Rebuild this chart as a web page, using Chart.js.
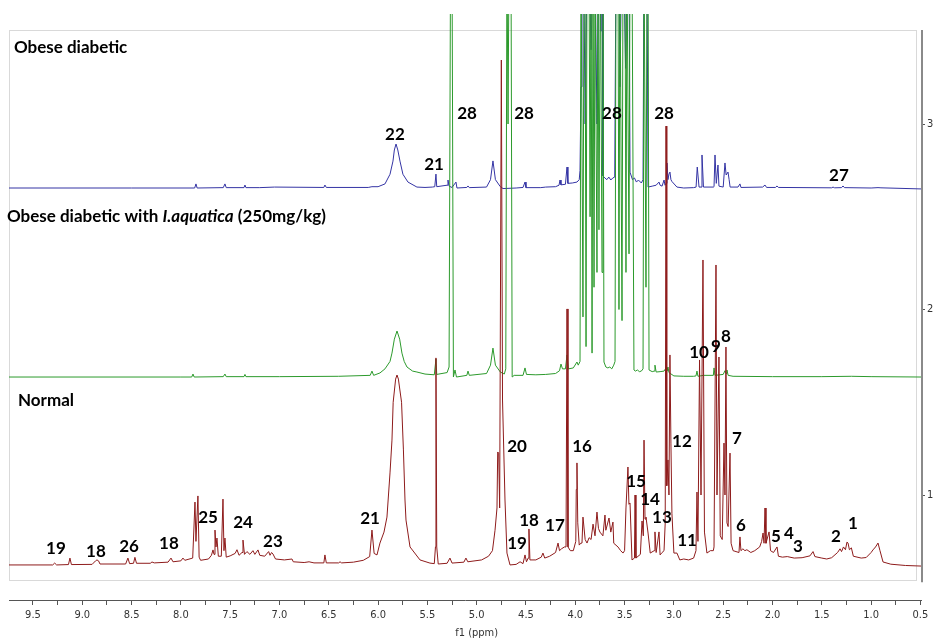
<!DOCTYPE html>
<html>
<head>
<meta charset="utf-8">
<title>1H NMR spectra</title>
<script src="https://cdn.jsdelivr.net/npm/chart.js@4.4.1/dist/chart.umd.min.js"></script>
<style>
  html, body { margin: 0; padding: 0; background: #fff; }
  #wrap { width: 935px; height: 641px; }
</style>
</head>
<body>
<div id="wrap"><canvas id="nmr-chart" width="935" height="641"></canvas></div>
<script>
// stacked 1H spectra, [ppm, intensity] with each trace already offset on the right axis
const normalTrace = [
  [9.743, 0.623], [9.30, 0.623], [9.28, 0.633], [9.26, 0.623],
  [9.14, 0.625], [9.125, 0.660], [9.11, 0.625],
  [8.90, 0.626], [8.865, 0.645], [8.851, 0.650], [8.835, 0.645], [8.82, 0.628],
  [8.56, 0.628], [8.537, 0.660], [8.52, 0.630], [8.48, 0.632], [8.466, 0.664], [8.45, 0.632],
  [8.31, 0.632], [8.293, 0.639], [8.27, 0.634],
  [8.13, 0.638], [8.10, 0.660], [8.08, 0.640],
  [8.00, 0.645], [7.979, 0.660], [7.96, 0.648],
  [7.88, 0.660], [7.857, 0.962], [7.847, 0.750], [7.827, 0.995], [7.815, 0.665], [7.80, 0.648],
  [7.72, 0.655], [7.69, 0.675], [7.674, 0.704], [7.664, 0.680], [7.654, 0.811], [7.644, 0.720], [7.634, 0.768], [7.62, 0.670],
  [7.59, 0.670], [7.573, 0.978], [7.563, 0.700], [7.553, 0.768], [7.54, 0.665],
  [7.50, 0.672], [7.45, 0.685], [7.431, 0.705], [7.41, 0.675], [7.38, 0.690], [7.370, 0.757], [7.355, 0.680],
  [7.33, 0.695], [7.30, 0.680], [7.269, 0.700], [7.25, 0.680], [7.218, 0.704], [7.20, 0.675], [7.15, 0.670],
  [7.110, 0.695], [7.096, 0.675], [7.080, 0.690], [7.066, 0.682], [7.04, 0.655],
  [6.95, 0.650], [6.873, 0.655], [6.86, 0.640],
  [6.75, 0.636], [6.70, 0.640], [6.65, 0.634],
  [6.55, 0.634], [6.539, 0.677], [6.525, 0.634],
  [6.40, 0.634], [6.386, 0.640], [6.37, 0.634], [6.25, 0.638], [6.15, 0.648],
  [6.085, 0.668], [6.062, 0.811], [6.040, 0.685], [6.011, 0.677], [5.981, 0.741], [5.940, 0.800],
  [5.910, 0.881], [5.879, 1.119], [5.859, 1.296], [5.847, 1.500], [5.822, 1.625], [5.808, 1.647],
  [5.794, 1.625], [5.762, 1.500], [5.743, 1.243], [5.727, 0.973], [5.717, 0.865], [5.676, 0.720],
  [5.575, 0.650], [5.474, 0.633],
  [5.430, 0.630], [5.418, 0.720], [5.413, 1.739], [5.405, 0.720], [5.390, 0.628],
  [5.30, 0.632], [5.271, 0.660], [5.25, 0.633], [5.13, 0.638], [5.109, 0.660], [5.09, 0.640],
  [4.95, 0.650], [4.88, 0.670], [4.84, 0.700], [4.814, 0.810], [4.794, 0.930], [4.787, 1.232],
  [4.777, 1.226], [4.767, 0.930], [4.750, 3.345], [4.738, 1.512], [4.713, 0.973], [4.693, 0.687], [4.662, 0.623],
  [4.60, 0.626], [4.56, 0.640], [4.53, 0.630], [4.51, 0.677], [4.495, 0.640], [4.478, 0.660], [4.470, 0.817],
  [4.460, 0.650], [4.40, 0.650], [4.345, 0.665], [4.328, 0.687], [4.31, 0.660], [4.26, 0.670], [4.20, 0.690],
  [4.175, 0.741], [4.16, 0.700], [4.14, 0.710], [4.11, 0.720], [4.094, 0.720], [4.084, 2.003], [4.074, 0.720], [4.05, 0.700],
  [4.02, 0.700], [3.995, 0.750], [3.990, 1.030], [3.983, 1.173], [3.975, 0.850], [3.960, 0.730], [3.945, 0.740],
  [3.932, 0.741], [3.922, 0.881], [3.90, 0.760], [3.881, 0.741], [3.86, 0.770], [3.840, 0.760], [3.820, 0.843],
  [3.80, 0.780], [3.780, 0.908], [3.765, 0.820], [3.75, 0.800], [3.72, 0.780], [3.699, 0.892], [3.69, 0.810],
  [3.658, 0.876], [3.64, 0.800], [3.618, 0.854], [3.61, 0.740], [3.567, 0.720], [3.54, 0.700], [3.516, 0.687],
  [3.500, 0.700], [3.486, 0.930], [3.466, 1.151], [3.456, 0.950], [3.445, 0.957], [3.425, 0.650], [3.40, 0.660],
  [3.394, 1.000], [3.385, 0.660], [3.34, 0.680], [3.323, 0.860], [3.31, 0.780], [3.303, 1.296], [3.293, 0.870],
  [3.283, 0.881], [3.262, 0.795], [3.24, 0.687], [3.20, 0.700], [3.192, 0.801], [3.18, 0.690], [3.151, 0.801],
  [3.14, 0.677], [3.12, 0.690],
  [3.10, 0.700], [3.088, 0.850], [3.080, 2.989], [3.072, 1.050], [3.060, 1.189], [3.050, 1.000], [3.040, 1.755],
  [3.030, 1.280], [3.020, 0.900], [3.000, 0.687], [2.969, 0.687], [2.94, 0.650], [2.90, 0.655], [2.85, 0.650],
  [2.80, 0.660], [2.776, 0.700], [2.766, 1.016], [2.756, 0.750], [2.740, 1.728], [2.725, 1.000], [2.705, 2.267],
  [2.690, 0.800], [2.665, 0.687], [2.63, 0.700], [2.60, 0.700],
  [2.593, 0.720], [2.573, 2.240], [2.563, 1.000], [2.543, 1.744], [2.530, 0.780], [2.51, 0.760], [2.492, 1.280],
  [2.482, 1.000], [2.472, 1.798], [2.462, 0.850], [2.45, 0.830], [2.431, 1.226], [2.42, 0.740], [2.40, 0.700],
  [2.34, 0.690], [2.330, 0.774], [2.32, 0.700], [2.30, 0.710], [2.28, 0.700], [2.26, 0.705], [2.22, 0.690],
  [2.18, 0.700], [2.13, 0.720], [2.11, 0.750], [2.096, 0.795], [2.086, 0.740], [2.076, 0.930], [2.066, 0.740],
  [2.035, 0.801], [2.02, 0.700], [1.99, 0.690], [1.954, 0.720], [1.94, 0.670], [1.90, 0.665], [1.85, 0.668],
  [1.78, 0.660], [1.70, 0.662], [1.62, 0.672], [1.589, 0.695], [1.57, 0.668], [1.50, 0.660], [1.45, 0.655],
  [1.40, 0.662], [1.34, 0.690], [1.315, 0.710], [1.30, 0.695], [1.28, 0.720], [1.26, 0.705], [1.245, 0.746],
  [1.234, 0.741], [1.22, 0.705], [1.20, 0.715], [1.18, 0.670], [1.10, 0.660], [1.05, 0.663], [1.00, 0.690],
  [0.981, 0.704], [0.955, 0.720], [0.930, 0.741], [0.910, 0.700], [0.879, 0.639], [0.80, 0.627], [0.65, 0.620],
  [0.494, 0.617]
];

const treatedTrace = [
  [9.743, 1.636], [8.00, 1.636], [7.89, 1.636], [7.877, 1.652], [7.865, 1.636], [7.57, 1.638], [7.553, 1.652],
  [7.54, 1.638], [7.36, 1.638], [7.350, 1.650], [7.34, 1.638], [7.00, 1.638], [6.40, 1.640], [6.08, 1.645],
  [6.062, 1.668], [6.045, 1.645], [5.981, 1.658], [5.930, 1.680], [5.879, 1.720], [5.859, 1.765], [5.835, 1.840],
  [5.808, 1.884], [5.781, 1.840], [5.758, 1.765], [5.735, 1.720], [5.707, 1.690], [5.650, 1.668], [5.606, 1.663],
  [5.524, 1.652], [5.430, 1.648], [5.413, 1.733], [5.405, 1.650], [5.30, 1.660], [5.280, 1.690], [5.265, 3.900],
  [5.250, 3.900], [5.236, 1.636], [5.220, 1.674], [5.205, 1.636], [5.10, 1.645], [5.088, 1.668], [5.075, 1.645],
  [4.90, 1.655], [4.86, 1.700], [4.835, 1.792], [4.81, 1.700], [4.76, 1.663], [4.72, 1.652], [4.705, 1.680],
  [4.693, 3.900], [4.682, 3.000], [4.672, 3.900], [4.652, 3.900], [4.640, 1.636], [4.62, 1.645], [4.53, 1.645],
  [4.510, 1.685], [4.495, 1.650], [4.40, 1.648], [4.30, 1.650], [4.20, 1.655], [4.16, 1.670], [4.145, 1.706],
  [4.13, 1.680], [4.10, 1.680], [4.084, 1.755], [4.07, 1.680], [4.02, 1.685], [3.983, 1.717], [3.97, 1.700],
  [3.952, 1.720],
  [3.942, 3.900], [3.932, 3.900], [3.922, 1.960], [3.912, 3.900], [3.901, 3.900], [3.891, 1.800], [3.881, 3.900],
  [3.861, 3.900], [3.850, 2.500], [3.840, 3.900], [3.830, 1.765], [3.820, 3.900], [3.810, 2.120], [3.800, 3.900],
  [3.780, 2.200], [3.770, 3.900], [3.760, 2.430], [3.745, 3.900], [3.729, 2.200], [3.719, 3.900], [3.709, 1.717],
  [3.690, 1.690], [3.670, 1.685], [3.650, 1.690], [3.630, 1.680], [3.610, 1.700], [3.597, 1.720],
  [3.587, 3.900], [3.567, 3.900], [3.557, 2.000], [3.547, 3.900], [3.526, 1.940], [3.516, 3.900], [3.496, 3.900],
  [3.486, 2.200], [3.476, 3.900], [3.455, 2.300], [3.445, 3.900], [3.425, 3.900], [3.405, 1.674],
  [3.39, 1.668], [3.37, 1.674], [3.35, 1.665], [3.33, 1.668], [3.313, 1.680],
  [3.303, 3.900], [3.283, 2.120], [3.273, 3.900], [3.262, 3.900], [3.252, 1.674],
  [3.22, 1.665], [3.20, 1.668], [3.192, 1.700], [3.18, 1.663], [3.14, 1.665], [3.10, 1.668], [3.080, 1.685],
  [3.070, 1.670], [3.060, 1.690], [3.050, 1.660], [3.00, 1.642], [2.90, 1.640], [2.80, 1.640], [2.776, 1.642],
  [2.766, 1.668], [2.756, 1.640], [2.70, 1.645], [2.60, 1.645], [2.593, 1.685], [2.583, 1.645], [2.50, 1.650],
  [2.482, 1.670], [2.470, 1.655], [2.462, 1.674], [2.45, 1.645], [2.40, 1.640], [2.00, 1.638], [1.50, 1.638],
  [1.20, 1.640], [1.00, 1.638], [0.494, 1.636]
];

const diabeticTrace = [
  [9.743, 2.655], [8.50, 2.655], [7.86, 2.655], [7.847, 2.677], [7.835, 2.655], [7.57, 2.657], [7.553, 2.677],
  [7.54, 2.657], [7.36, 2.657], [7.350, 2.671], [7.34, 2.657], [7.20, 2.657], [7.05, 2.660], [6.55, 2.658],
  [6.539, 2.671], [6.525, 2.658], [6.10, 2.658], [6.062, 2.662], [6.00, 2.662], [5.930, 2.677], [5.879, 2.729],
  [5.849, 2.800], [5.835, 2.860], [5.818, 2.892], [5.800, 2.860], [5.778, 2.800], [5.748, 2.729], [5.697, 2.687],
  [5.606, 2.660], [5.524, 2.658], [5.45, 2.660], [5.425, 2.662], [5.413, 2.730], [5.405, 2.662], [5.30, 2.670],
  [5.291, 2.698], [5.280, 2.665], [5.25, 2.658], [5.210, 2.687], [5.200, 2.655], [5.10, 2.658], [5.088, 2.666],
  [5.075, 2.657], [4.90, 2.660], [4.86, 2.700], [4.835, 2.801], [4.81, 2.700], [4.76, 2.662], [4.733, 2.652],
  [4.60, 2.655], [4.53, 2.658], [4.510, 2.687], [4.500, 2.657], [4.35, 2.657], [4.30, 2.660], [4.20, 2.662],
  [4.165, 2.670], [4.155, 2.698], [4.145, 2.672], [4.10, 2.675], [4.084, 2.768], [4.075, 2.680], [4.03, 2.682],
  [3.983, 2.687], [3.960, 2.700],
  [3.952, 2.750], [3.942, 3.200], [3.932, 3.900], [3.915, 3.900], [3.900, 3.000], [3.880, 3.900], [3.860, 3.900],
  [3.840, 3.400], [3.820, 3.900], [3.800, 3.900], [3.780, 3.000], [3.760, 3.900], [3.740, 3.500], [3.729, 3.900],
  [3.719, 2.720],
  [3.700, 2.709], [3.680, 2.700], [3.660, 2.714], [3.640, 2.698], [3.620, 2.709], [3.600, 2.714],
  [3.587, 3.900], [3.557, 3.900], [3.547, 3.200], [3.530, 3.900], [3.510, 3.900], [3.490, 3.300], [3.470, 3.900],
  [3.455, 3.900], [3.445, 2.740], [3.420, 2.700], [3.400, 2.709], [3.380, 2.687], [3.360, 2.698], [3.330, 2.682],
  [3.313, 2.700],
  [3.303, 3.900], [3.273, 3.900], [3.262, 2.660],
  [3.220, 2.665], [3.180, 2.670], [3.151, 2.687], [3.140, 2.670], [3.120, 2.665], [3.100, 2.698], [3.090, 2.670],
  [3.080, 2.680], [3.070, 2.790], [3.060, 2.700], [3.050, 2.730], [3.040, 2.741], [3.030, 2.700], [3.020, 2.690],
  [2.969, 2.660], [2.90, 2.655], [2.80, 2.657], [2.775, 2.660], [2.763, 2.768], [2.745, 2.660], [2.725, 2.660],
  [2.715, 2.833], [2.700, 2.660], [2.60, 2.660], [2.593, 2.662], [2.583, 2.833], [2.570, 2.680], [2.553, 2.779],
  [2.543, 2.665], [2.50, 2.660], [2.482, 2.790], [2.470, 2.725], [2.451, 2.741], [2.440, 2.700], [2.430, 2.660],
  [2.35, 2.660], [2.330, 2.677], [2.320, 2.658], [2.10, 2.660], [2.076, 2.671], [2.060, 2.658], [1.970, 2.658],
  [1.954, 2.666], [1.940, 2.658], [1.40, 2.656], [1.386, 2.660], [1.370, 2.656], [1.30, 2.657], [1.285, 2.666],
  [1.270, 2.657], [1.00, 2.655], [0.930, 2.657], [0.90, 2.656], [0.494, 2.650]
];

// axis ticks
const xMajorTicks = [9.5, 9.0, 8.5, 8.0, 7.5, 7.0, 6.5, 6.0, 5.5, 5.0, 4.5, 4.0, 3.5, 3.0, 2.5, 2.0, 1.5, 1.0, 0.5];
const yTicks = [1, 2, 3];

// assignment numbers: text, ppm, height
const peakText = ["22", "21", "28", "28", "28", "28", "27",
  "10", "9", "8",
  "20", "16", "12", "7", "15", "14", "13", "18", "17", "19", "11", "6", "5", "4", "3", "2", "1",
  "21", "23", "24", "25", "18", "26", "18", "19"];
const peakPpm = [5.829, 5.433, 5.098, 4.520, 3.628, 3.100, 1.326,
  2.745, 2.573, 2.472,
  4.591, 3.932, 2.918, 2.360, 3.384, 3.242, 3.121, 4.469, 4.206, 4.591, 2.867, 2.319, 1.965, 1.833, 1.742, 1.356, 1.184,
  6.082, 7.066, 7.370, 7.725, 8.121, 8.526, 8.861, 9.267];
const peakLevel = [2.941, 2.784, 3.054, 3.054, 3.059, 3.059, 2.720,
  1.766, 1.798, 1.852,
  1.264, 1.264, 1.291, 1.302, 1.075, 0.978, 0.881, 0.860, 0.838, 0.741, 0.752, 0.833, 0.774, 0.790, 0.720, 0.774, 0.844,
  0.871, 0.747, 0.854, 0.881, 0.741, 0.720, 0.698, 0.714];

const colorsHEX = {
  normal: "#8e1b1b",
  treated: "#2c9a2c",
  diabetic: "#3434a4",
  frame: "#d9d9d9",
  axis: "#555555",
  text: "#000000",
};

const labelFont = "bold 17px Lato, 'Liberation Sans', sans-serif";

const xTickValues = [];
for (let v = 9.5; v >= 0.5; v -= 0.25) xTickValues.push(v);

function toPoints(trace) {
  return trace.map(([x, y]) => ({ x: x, y: y }));
}

// frame, right axis rule, group titles and peak numbers
const spectrumDecor = {
  id: "spectrumDecor",
  beforeDatasetsDraw(chart) {
    const { ctx, scales } = chart;
    const x = scales.x, y = scales.y;
    const left = Math.round(x.getPixelForValue(9.743)) + 0.5;
    const right = Math.round(x.getPixelForValue(0.545)) + 0.5;
    const top = Math.round(y.getPixelForValue(3.507)) + 0.5;
    const bottom = Math.round(y.getPixelForValue(0.542)) + 0.5;
    ctx.save();
    ctx.strokeStyle = colorsHEX.frame;
    ctx.lineWidth = 1;
    ctx.strokeRect(left, top, right - left, bottom - top);
    ctx.restore();
  },
  afterDatasetsDraw(chart) {
    const { ctx, scales, chartArea } = chart;
    const x = scales.x, y = scales.y;
    ctx.save();

    // right intensity rule
    ctx.strokeStyle = "#8a8a8a";
    ctx.lineWidth = 2;
    ctx.beginPath();
    ctx.moveTo(chartArea.right + 1, y.getPixelForValue(3.507));
    ctx.lineTo(chartArea.right + 1, y.getPixelForValue(0.53));
    ctx.stroke();

    ctx.fillStyle = colorsHEX.text;
    ctx.font = labelFont;
    ctx.textAlign = "center";
    ctx.textBaseline = "middle";
    peakText.forEach((t, i) => {
      ctx.fillText(t, x.getPixelForValue(peakPpm[i]), y.getPixelForValue(peakLevel[i]));
    });

    ctx.textAlign = "left";
    ctx.fillText("Obese diabetic", x.getPixelForValue(9.693), y.getPixelForValue(3.415));
    ctx.fillText("Normal", x.getPixelForValue(9.652), y.getPixelForValue(1.507));

    // treated group title, species name in italics
    let tx = x.getPixelForValue(9.764);
    const ty = y.getPixelForValue(2.499);
    const parts = [
      ["Obese diabetic with ", labelFont],
      ["I.aquatica", "italic " + labelFont],
      [" (250mg/kg)", labelFont],
    ];
    parts.forEach(([t, f]) => {
      ctx.font = f;
      ctx.fillText(t, tx, ty);
      tx += ctx.measureText(t).width;
    });

    ctx.font = "11px 'DejaVu Sans Condensed', 'DejaVu Sans', sans-serif";
    ctx.fillStyle = "#333";
    ctx.textAlign = "center";
    ctx.fillText("f1 (ppm)", x.getPixelForValue(5.0), 633);
    ctx.restore();
  },
};

let nmrChart = new Chart("nmr-chart", {
  type: "line",
  data: {
    datasets: [
      {
        label: "Normal",
        data: toPoints(normalTrace),
        borderColor: colorsHEX.normal,
        borderWidth: 1,
        pointRadius: 0,
        tension: 0,
      },
      {
        label: "Obese diabetic with I.aquatica (250mg/kg)",
        data: toPoints(treatedTrace),
        borderColor: colorsHEX.treated,
        borderWidth: 1,
        pointRadius: 0,
        tension: 0,
      },
      {
        label: "Obese diabetic",
        data: toPoints(diabeticTrace),
        borderColor: colorsHEX.diabetic,
        borderWidth: 1,
        pointRadius: 0,
        tension: 0,
      },
    ],
  },
  options: {
    responsive: false,
    devicePixelRatio: 1,
    animation: false,
    layout: { padding: { left: 9, top: 14, right: 0, bottom: 0 } },
    plugins: {
      legend: { display: false },
      tooltip: { enabled: false },
    },
    scales: {
      x: {
        type: "linear",
        reverse: true,
        min: 0.494,
        max: 9.743,
        afterFit: (s) => { s.height = 41; },
        afterBuildTicks: (s) => { s.ticks = xTickValues.map((v) => ({ value: v })); },
        ticks: {
          autoSkip: false,
          maxRotation: 0,
          padding: 4,
          color: "#333",
          font: { family: "'DejaVu Sans Condensed', 'DejaVu Sans', sans-serif", size: 11 },
          callback: (v) => (xMajorTicks.includes(v) ? v.toFixed(1) : ""),
        },
        grid: { drawOnChartArea: false, tickLength: 5, color: colorsHEX.axis },
        border: { color: colorsHEX.axis },
      },
      y: {
        position: "right",
        min: 0.434,
        max: 3.593,
        afterFit: (s) => { s.width = 14; },
        afterBuildTicks: (s) => { s.ticks = yTicks.map((v) => ({ value: v })); },
        ticks: {
          padding: 2,
          color: "#333",
          font: { family: "'DejaVu Sans Condensed', 'DejaVu Sans', sans-serif", size: 11 },
        },
        grid: { drawOnChartArea: false, tickLength: 4, color: colorsHEX.axis },
        border: { display: false },
      },
    },
  },
  plugins: [spectrumDecor],
});
</script>
</body>
</html>
